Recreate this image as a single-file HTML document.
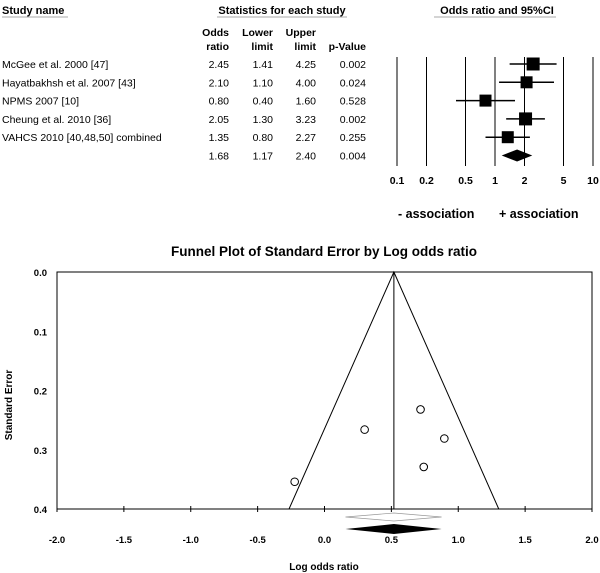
<!DOCTYPE html>
<html><head><meta charset="utf-8"><style>
body{margin:0;background:#fff;}
svg{display:block;font-family:"Liberation Sans",Arial,sans-serif;}
</style></head><body>
<svg id="c" width="600" height="573" viewBox="0 0 600 573" xmlns="http://www.w3.org/2000/svg">
<g font-size="11" font-weight="bold" fill="#000">
<text x="2" y="14">Study name</text>
<line x1="2" y1="17" x2="68" y2="17" stroke="#aaa"/>
<text x="282" y="14" text-anchor="middle">Statistics for each study</text>
<line x1="217" y1="17" x2="347" y2="17" stroke="#aaa"/>
<text x="497" y="14" text-anchor="middle">Odds ratio and 95%CI</text>
<line x1="434" y1="17" x2="556" y2="17" stroke="#aaa"/>
<text x="229" y="36" text-anchor="end" font-size="10.5">Odds</text>
<text x="229" y="50" text-anchor="end" font-size="10.5">ratio</text>
<text x="273" y="36" text-anchor="end" font-size="10.5">Lower</text>
<text x="273" y="50" text-anchor="end" font-size="10.5">limit</text>
<text x="316" y="36" text-anchor="end" font-size="10.5">Upper</text>
<text x="316" y="50" text-anchor="end" font-size="10.5">limit</text>
<text x="366" y="50" text-anchor="end" font-size="10.5">p-Value</text>
</g>
<g id="forest"></g>
<g id="funnel"></g>
</svg>
<script>
const studies=["McGee et al. 2000 [47]","Hayatbakhsh et al. 2007 [43]","NPMS 2007 [10]","Cheung et al. 2010 [36]","VAHCS 2010 [40,48,50] combined"];
const oddsRatios=[2.45,2.10,0.80,2.05,1.35];
const lowerLimits=[1.41,1.10,0.40,1.30,0.80];
const upperLimits=[4.25,4.00,1.60,3.23,2.27];
const pValues=["0.002","0.024","0.528","0.002","0.255"];
const boxSizes=[13,12,12,13,12];
const pooled=[1.68,1.17,2.40];
const pooledP="0.004";
const orTicks=[0.1,0.2,0.5,1,2,5,10];
const funnelX=[0.896,0.742,-0.223,0.718,0.300];
const funnelSE=[0.281,0.329,0.354,0.232,0.266];
const xTicks=[-2.0,-1.5,-1.0,-0.5,0.0,0.5,1.0,1.5,2.0];
const yTicks=[0.0,0.1,0.2,0.3,0.4];

const NS="http://www.w3.org/2000/svg";
function mk(p,t,a,txt){const e=document.createElementNS(NS,t);for(const k in a)e.setAttribute(k,a[k]);if(txt!==undefined)e.textContent=txt;p.appendChild(e);return e;}
const F=document.getElementById('forest');
const fx=v=>495+98*Math.log10(v);
const rowY=i=>64+18.3*i;
orTicks.forEach(t=>{
 const l=mk(F,'line',{x1:fx(t),x2:fx(t),y1:57,y2:166,stroke:'#000','stroke-width':1});
 
 
 const tx=mk(F,'text',{x:fx(t),y:184,'text-anchor':'middle','font-size':10.5,'font-weight':'bold'},String(t));
 
 
});
const fmt=v=>v.toFixed(2);
studies.forEach((s,i)=>{
 const y=rowY(i);
 const n=mk(F,'text',{x:2,y:y+4,'font-size':10.5},s);
 
 
 [[229,fmt(oddsRatios[i])],[273,fmt(lowerLimits[i])],[316,fmt(upperLimits[i])],[366,pValues[i]]].forEach(([x,v])=>{
  const t=mk(F,'text',{x:x,y:y+4,'font-size':10.5,'text-anchor':'end'},v);
  
  
 });
 const ci=mk(F,'line',{x1:fx(lowerLimits[i]),x2:fx(upperLimits[i]),y1:y,y2:y,stroke:'#000','stroke-width':1.5});
 
 
 const b=boxSizes[i];
 const r=mk(F,'rect',{x:fx(oddsRatios[i])-b/2,y:y-b/2,width:b,height:b,fill:'#000'});
 
 
});
{
 const y=rowY(5);
 [[229,fmt(pooled[0])],[273,fmt(pooled[1])],[316,fmt(pooled[2])],[366,pooledP]].forEach(([x,v])=>{
  const t=mk(F,'text',{x:x,y:y+4,'font-size':10.5,'text-anchor':'end'},v);
  
  
 });
 const d=mk(F,'polygon',{points:`${fx(pooled[1])},${y} ${fx(pooled[0])},${y-6} ${fx(pooled[2])},${y} ${fx(pooled[0])},${y+6}`,fill:'#000'});
 
 
}
const a1=mk(F,'text',{x:398,y:218,'font-size':12.5,'font-weight':'bold'},'- association');


const a2=mk(F,'text',{x:499,y:218,'font-size':12.5,'font-weight':'bold'},'+ association');



// Funnel
const G=document.getElementById('funnel');
const X0=57,X1=592;
const px=v=>X0+(v+2)*(X1-X0)/4;
const py=v=>272+v*(509-272)/0.4;
const ttl=mk(G,'text',{x:324,y:256,'text-anchor':'middle','font-size':13.5,'font-weight':'bold'},'Funnel Plot of Standard Error by Log odds ratio');


const fr=mk(G,'rect',{x:X0,y:py(0),width:X1-X0,height:py(0.4)-py(0),fill:'none',stroke:'#000','stroke-width':1});


yTicks.forEach(t=>{
 const tx=mk(G,'text',{x:47,y:py(t)+4,'text-anchor':'end','font-size':9.5,'font-weight':'bold'},t.toFixed(1));
 
 
});
xTicks.forEach(t=>{
 const tk=mk(G,'line',{x1:px(t),x2:px(t),y1:py(0.4)-3,y2:py(0.4)+3,stroke:'#000'});
 
 
 const tx=mk(G,'text',{x:px(t),y:543,'text-anchor':'middle','font-size':9.5,'font-weight':'bold'},t.toFixed(1));
 
 
});
const yt=mk(G,'text',{transform:'translate(12,405) rotate(-90)','text-anchor':'middle','font-size':10,'font-weight':'bold'},'Standard Error');


const xt=mk(G,'text',{x:324,y:570,'text-anchor':'middle','font-size':10,'font-weight':'bold'},'Log odds ratio');


const m=Math.log(pooled[0]);
const f=mk(G,'polyline',{points:`${px(m-1.96*0.4)},${py(0.4)} ${px(m)},${py(0)} ${px(m+1.96*0.4)},${py(0.4)}`,fill:'none',stroke:'#000'});


const ml=mk(G,'line',{x1:px(m),x2:px(m),y1:py(0),y2:py(0.4),stroke:'#000'});


funnelX.forEach((v,i)=>{
 const c=mk(G,'circle',{cx:px(v),cy:py(funnelSE[i]),r:3.8,fill:'#fff',stroke:'#000','stroke-width':1});
 
 
});
const lo=Math.log(pooled[1]),hi=Math.log(pooled[2]);
const d1=mk(G,'polygon',{points:`${px(lo)},517 ${px(m)},513 ${px(hi)},517 ${px(m)},521`,fill:'#fff',stroke:'#999','stroke-width':0.7});


const d2=mk(G,'polygon',{points:`${px(lo)},529 ${px(m)},524 ${px(hi)},529 ${px(m)},534`,fill:'#000'});


</script>
</body></html>
